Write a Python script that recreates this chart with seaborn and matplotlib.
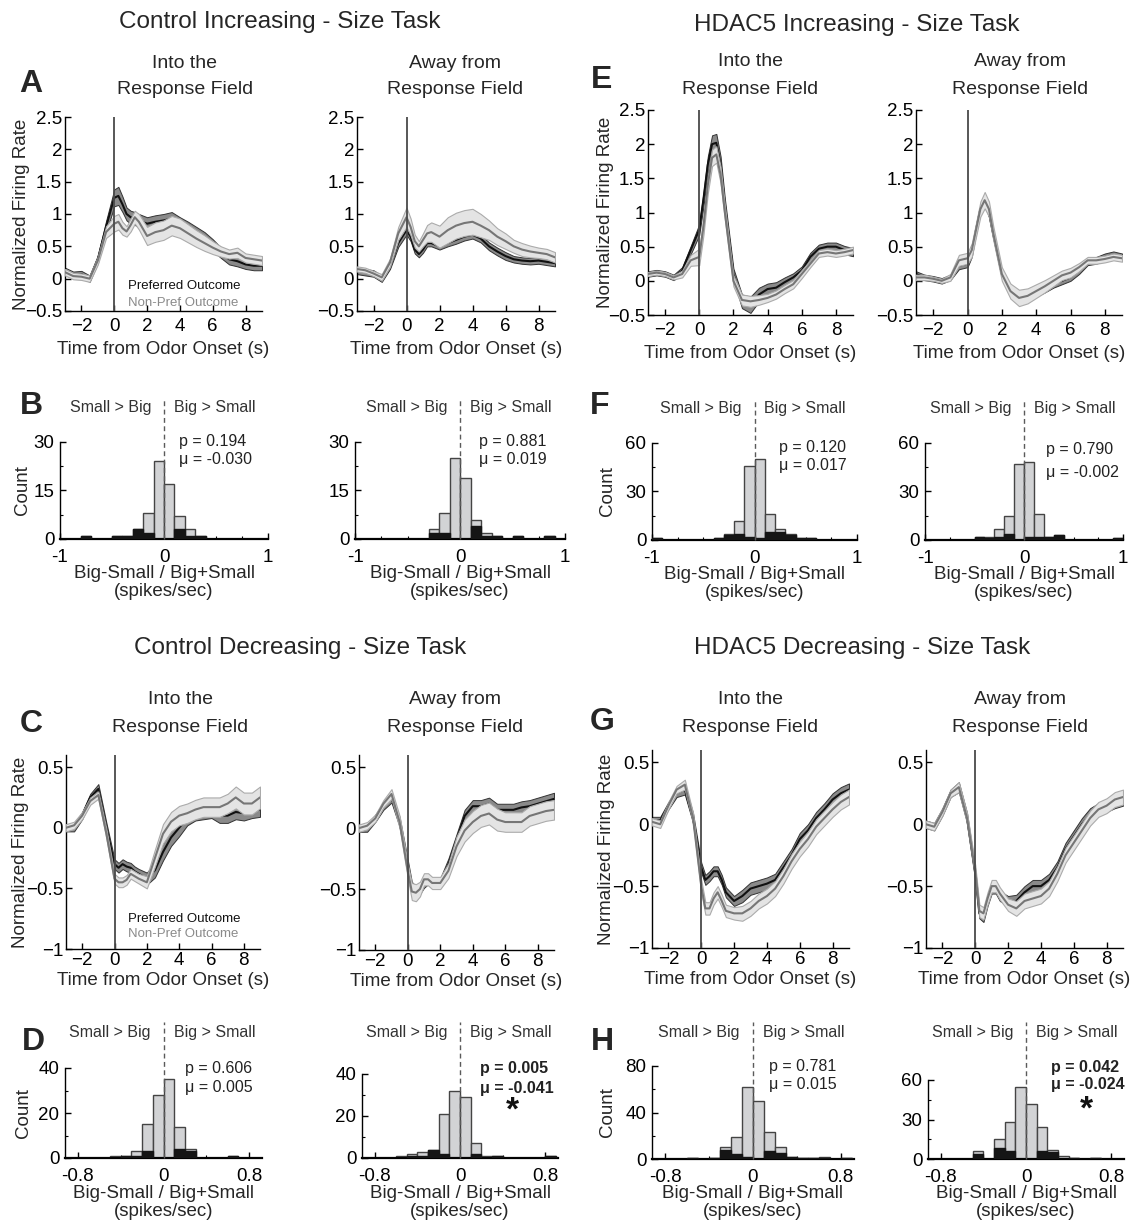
import numpy as np
import pandas as pd
import matplotlib
matplotlib.use("Agg")
import matplotlib.pyplot as plt
import matplotlib.transforms as mtransforms
import seaborn as sns

sns.set_theme(style="ticks")
plt.rcParams["font.family"] = ["Liberation Sans", "DejaVu Sans"]

# ---------------- data ----------------
time_s = [-3, -2.5, -2, -1.5, -1, -0.5, 0, 0.25, 0.5, 0.75, 1, 1.25, 1.5, 2,
          2.5, 3, 3.5, 4, 4.5, 5, 5.5, 6, 6.5, 7, 7.5, 8, 8.5, 9]

# Control Increasing - Into RF
A_in_pref = [0.12, 0.06, 0.07, 0.00, 0.30, 0.80, 1.25, 1.28, 1.15, 1.00, 0.95, 0.93, 0.90, 0.85, 0.88, 0.90, 0.93, 0.85, 0.78, 0.70, 0.62, 0.52, 0.40, 0.30, 0.27, 0.22, 0.20, 0.20]
A_in_pref_sem = [0.05, 0.05, 0.05, 0.05, 0.06, 0.09, 0.13, 0.14, 0.12, 0.10, 0.10, 0.10, 0.10, 0.10, 0.10, 0.10, 0.10, 0.10, 0.10, 0.10, 0.10, 0.09, 0.08, 0.08, 0.08, 0.07, 0.07, 0.07]
A_in_non = [0.10, 0.04, 0.03, 0.00, 0.28, 0.72, 0.85, 0.88, 0.78, 0.73, 0.83, 0.95, 0.88, 0.66, 0.72, 0.75, 0.82, 0.78, 0.70, 0.62, 0.55, 0.48, 0.42, 0.38, 0.40, 0.32, 0.30, 0.28]
A_in_non_sem = [0.05, 0.05, 0.05, 0.05, 0.06, 0.09, 0.12, 0.12, 0.10, 0.08, 0.10, 0.10, 0.12, 0.14, 0.15, 0.15, 0.15, 0.15, 0.14, 0.13, 0.12, 0.10, 0.08, 0.07, 0.08, 0.07, 0.07, 0.07]
# Control Increasing - Away
A_away_pref = [0.12, 0.10, 0.08, 0.00, 0.20, 0.55, 0.75, 0.65, 0.45, 0.38, 0.45, 0.55, 0.55, 0.50, 0.55, 0.60, 0.65, 0.68, 0.62, 0.50, 0.42, 0.35, 0.30, 0.28, 0.27, 0.28, 0.26, 0.24]
A_away_pref_sem = [0.05, 0.05, 0.05, 0.05, 0.05, 0.06, 0.07, 0.07, 0.06, 0.05, 0.05, 0.05, 0.05, 0.05, 0.05, 0.06, 0.06, 0.06, 0.06, 0.06, 0.06, 0.06, 0.05, 0.05, 0.05, 0.05, 0.05, 0.05]
A_away_non = [0.15, 0.13, 0.08, 0.02, 0.25, 0.70, 0.95, 0.80, 0.58, 0.50, 0.60, 0.70, 0.72, 0.65, 0.75, 0.82, 0.86, 0.88, 0.82, 0.75, 0.65, 0.58, 0.50, 0.45, 0.42, 0.40, 0.38, 0.33]
A_away_non_sem = [0.04, 0.04, 0.04, 0.05, 0.06, 0.10, 0.15, 0.13, 0.10, 0.08, 0.10, 0.13, 0.15, 0.17, 0.20, 0.20, 0.20, 0.20, 0.18, 0.15, 0.13, 0.12, 0.10, 0.10, 0.09, 0.08, 0.08, 0.08]
# HDAC5 Increasing - Into RF
E_in_pref = [0.10, 0.12, 0.10, 0.05, 0.15, 0.45, 0.75, 1.20, 1.70, 2.00, 2.02, 1.70, 1.10, 0.10, -0.30, -0.35, -0.20, -0.12, -0.10, -0.02, 0.05, 0.15, 0.35, 0.47, 0.50, 0.50, 0.45, 0.42]
E_in_pref_sem = [0.04, 0.04, 0.04, 0.04, 0.05, 0.06, 0.08, 0.10, 0.12, 0.13, 0.13, 0.12, 0.10, 0.08, 0.10, 0.12, 0.10, 0.08, 0.08, 0.07, 0.06, 0.06, 0.06, 0.06, 0.06, 0.06, 0.06, 0.06]
E_in_non = [0.10, 0.12, 0.10, 0.05, 0.10, 0.30, 0.35, 0.80, 1.40, 1.80, 1.85, 1.55, 1.00, 0.00, -0.28, -0.30, -0.28, -0.25, -0.20, -0.12, -0.05, 0.10, 0.25, 0.40, 0.42, 0.40, 0.42, 0.45]
E_in_non_sem = [0.03, 0.03, 0.03, 0.03, 0.05, 0.08, 0.12, 0.12, 0.12, 0.12, 0.12, 0.12, 0.10, 0.08, 0.08, 0.08, 0.07, 0.06, 0.06, 0.06, 0.06, 0.06, 0.05, 0.05, 0.05, 0.05, 0.05, 0.05]
# HDAC5 Increasing - Away
E_away_pref = [0.10, 0.05, 0.03, 0.00, 0.05, 0.22, 0.25, 0.40, 0.75, 1.05, 1.15, 1.00, 0.68, 0.10, -0.15, -0.22, -0.20, -0.18, -0.12, -0.05, 0.00, 0.05, 0.15, 0.28, 0.30, 0.35, 0.38, 0.35]
E_away_pref_sem = [0.04, 0.04, 0.04, 0.04, 0.04, 0.05, 0.05, 0.05, 0.06, 0.06, 0.06, 0.06, 0.05, 0.05, 0.05, 0.05, 0.05, 0.05, 0.05, 0.05, 0.05, 0.05, 0.05, 0.05, 0.05, 0.05, 0.05, 0.05]
E_away_non = [0.05, 0.05, 0.03, 0.00, 0.05, 0.30, 0.33, 0.45, 0.75, 1.05, 1.18, 1.05, 0.70, 0.10, -0.15, -0.25, -0.22, -0.15, -0.08, 0.00, 0.08, 0.12, 0.20, 0.30, 0.30, 0.32, 0.35, 0.33]
E_away_non_sem = [0.04, 0.04, 0.03, 0.03, 0.05, 0.08, 0.08, 0.10, 0.10, 0.11, 0.12, 0.11, 0.10, 0.10, 0.11, 0.12, 0.11, 0.10, 0.09, 0.08, 0.07, 0.07, 0.06, 0.05, 0.05, 0.05, 0.05, 0.05]
# Control Decreasing - Into RF
C_in_pref = [0.00, 0.00, 0.10, 0.25, 0.32, 0.00, -0.30, -0.33, -0.30, -0.32, -0.33, -0.36, -0.38, -0.42, -0.35, -0.20, -0.08, 0.00, 0.08, 0.12, 0.13, 0.14, 0.10, 0.10, 0.13, 0.12, 0.14, 0.15]
C_in_pref_sem = [0.03, 0.03, 0.03, 0.03, 0.04, 0.04, 0.04, 0.04, 0.04, 0.04, 0.04, 0.04, 0.04, 0.05, 0.06, 0.07, 0.07, 0.07, 0.06, 0.06, 0.06, 0.06, 0.06, 0.06, 0.06, 0.06, 0.06, 0.06]
C_in_non = [0.00, 0.02, 0.10, 0.22, 0.27, -0.05, -0.42, -0.45, -0.45, -0.43, -0.38, -0.40, -0.42, -0.45, -0.25, -0.05, 0.05, 0.10, 0.12, 0.15, 0.17, 0.17, 0.17, 0.20, 0.25, 0.20, 0.20, 0.25]
C_in_non_sem = [0.03, 0.03, 0.03, 0.03, 0.03, 0.04, 0.04, 0.04, 0.04, 0.04, 0.04, 0.04, 0.04, 0.05, 0.07, 0.08, 0.08, 0.08, 0.08, 0.08, 0.08, 0.08, 0.08, 0.08, 0.09, 0.09, 0.09, 0.09]
# Control Decreasing - Away
C_away_pref = [0.00, 0.00, 0.08, 0.18, 0.25, 0.05, -0.30, -0.48, -0.52, -0.50, -0.45, -0.42, -0.45, -0.45, -0.30, -0.10, 0.10, 0.18, 0.18, 0.20, 0.15, 0.15, 0.15, 0.17, 0.18, 0.20, 0.22, 0.24]
C_away_pref_sem = [0.03, 0.03, 0.03, 0.03, 0.04, 0.04, 0.04, 0.04, 0.04, 0.04, 0.04, 0.04, 0.04, 0.04, 0.05, 0.05, 0.05, 0.05, 0.05, 0.05, 0.05, 0.05, 0.05, 0.05, 0.05, 0.05, 0.05, 0.05]
C_away_non = [0.00, 0.02, 0.08, 0.20, 0.28, 0.05, -0.35, -0.52, -0.53, -0.50, -0.42, -0.42, -0.45, -0.45, -0.35, -0.15, -0.02, 0.05, 0.10, 0.12, 0.07, 0.05, 0.05, 0.05, 0.10, 0.12, 0.14, 0.15]
C_away_non_sem = [0.03, 0.03, 0.03, 0.03, 0.04, 0.05, 0.06, 0.07, 0.07, 0.06, 0.05, 0.05, 0.05, 0.05, 0.06, 0.08, 0.09, 0.09, 0.09, 0.09, 0.09, 0.08, 0.08, 0.08, 0.08, 0.08, 0.08, 0.08]
# HDAC5 Decreasing - Into RF
G_in_pref = [0.03, 0.03, 0.15, 0.25, 0.28, 0.05, -0.35, -0.45, -0.42, -0.38, -0.38, -0.45, -0.55, -0.62, -0.58, -0.52, -0.50, -0.48, -0.45, -0.35, -0.25, -0.12, -0.05, 0.05, 0.12, 0.20, 0.25, 0.28]
G_in_pref_sem = [0.03, 0.03, 0.03, 0.03, 0.04, 0.04, 0.04, 0.04, 0.04, 0.04, 0.04, 0.04, 0.04, 0.04, 0.05, 0.05, 0.05, 0.05, 0.05, 0.05, 0.05, 0.05, 0.05, 0.05, 0.05, 0.05, 0.05, 0.05]
G_in_non = [0.02, 0.00, 0.15, 0.28, 0.32, 0.05, -0.50, -0.68, -0.68, -0.60, -0.55, -0.62, -0.70, -0.72, -0.72, -0.68, -0.62, -0.58, -0.52, -0.42, -0.30, -0.20, -0.12, -0.02, 0.05, 0.12, 0.18, 0.22]
G_in_non_sem = [0.03, 0.03, 0.03, 0.03, 0.04, 0.04, 0.05, 0.05, 0.05, 0.05, 0.05, 0.05, 0.05, 0.05, 0.06, 0.06, 0.06, 0.06, 0.06, 0.06, 0.06, 0.06, 0.06, 0.06, 0.06, 0.06, 0.06, 0.06]
# HDAC5 Decreasing - Away
G_away_pref = [0.00, -0.02, 0.10, 0.25, 0.30, 0.05, -0.40, -0.72, -0.75, -0.62, -0.52, -0.52, -0.58, -0.62, -0.62, -0.55, -0.50, -0.50, -0.45, -0.35, -0.20, -0.10, 0.00, 0.08, 0.12, 0.15, 0.18, 0.20]
G_away_pref_sem = [0.03, 0.03, 0.03, 0.03, 0.04, 0.04, 0.04, 0.04, 0.04, 0.04, 0.04, 0.04, 0.04, 0.04, 0.05, 0.05, 0.05, 0.05, 0.05, 0.05, 0.05, 0.05, 0.05, 0.05, 0.05, 0.05, 0.05, 0.05]
G_away_non = [0.00, -0.02, 0.10, 0.25, 0.30, 0.05, -0.38, -0.70, -0.72, -0.60, -0.50, -0.50, -0.56, -0.65, -0.68, -0.62, -0.60, -0.58, -0.52, -0.40, -0.25, -0.15, -0.05, 0.05, 0.12, 0.15, 0.20, 0.22]
G_away_non_sem = [0.03, 0.03, 0.03, 0.03, 0.04, 0.04, 0.05, 0.05, 0.05, 0.05, 0.05, 0.05, 0.05, 0.05, 0.06, 0.06, 0.06, 0.06, 0.06, 0.06, 0.06, 0.06, 0.06, 0.06, 0.06, 0.06, 0.06, 0.06]

# histogram bin counts, bins of 0.1 from -1 to 1 (all cells / significant cells)
B_in_all = [0, 0, 1, 0, 0, 1, 1, 3, 8, 24, 17, 7, 3, 1, 0, 0, 0, 0, 0, 0]
B_in_sig = [0, 0, 1, 0, 0, 1, 1, 3, 2, 0, 0, 3, 1, 1, 0, 0, 0, 0, 0, 0]
B_away_all = [0, 0, 0, 0, 0, 0, 0, 3, 8, 25, 19, 6, 2, 1, 0, 1, 0, 0, 1, 0]
B_away_sig = [0, 0, 0, 0, 0, 0, 0, 2, 2, 0, 0, 4, 1, 1, 0, 1, 0, 0, 1, 0]
F_in_all = [1, 0, 0, 0, 0, 0, 1, 4, 12, 46, 50, 16, 7, 4, 1, 1, 0, 0, 0, 0]
F_in_sig = [1, 0, 0, 0, 0, 0, 1, 3, 4, 2, 1, 5, 5, 3, 1, 1, 0, 0, 0, 0]
F_away_all = [0, 0, 0, 0, 0, 2, 2, 7, 15, 47, 48, 16, 2, 3, 0, 0, 0, 0, 0, 1]
F_away_sig = [0, 0, 0, 0, 0, 2, 1, 2, 4, 0, 2, 2, 2, 3, 0, 0, 0, 0, 0, 1]
D_in_all = [0, 0, 0, 0, 0, 1, 1, 3, 15, 28, 35, 14, 4, 0, 0, 0, 1, 0, 0, 0]
D_in_sig = [0, 0, 0, 0, 0, 0, 1, 1, 3, 0, 0, 4, 3, 0, 0, 0, 1, 0, 0, 0]
D_away_all = [0, 0, 0, 0, 1, 2, 3, 4, 21, 32, 29, 7, 1, 1, 0, 0, 0, 0, 1, 0]
D_away_sig = [0, 0, 0, 0, 0, 1, 1, 4, 2, 0, 0, 2, 0, 1, 0, 0, 0, 0, 1, 0]
H_in_all = [0, 0, 0, 0, 1, 0, 1, 10, 19, 62, 50, 23, 10, 2, 1, 1, 2, 0, 1, 0]
H_in_sig = [0, 0, 0, 0, 1, 0, 1, 8, 4, 2, 0, 7, 5, 2, 1, 1, 1, 0, 1, 0]
H_away_all = [0, 0, 0, 0, 0, 6, 0, 15, 28, 55, 42, 24, 7, 2, 1, 0, 1, 0, 0, 0]
H_away_sig = [0, 0, 0, 0, 0, 4, 0, 8, 6, 0, 0, 6, 5, 0, 1, 0, 1, 0, 0, 0]

stats_text = {
    "B_in": ("p = 0.194", "μ = -0.030"),
    "B_away": ("p = 0.881", "μ = 0.019"),
    "F_in": ("p = 0.120", "μ = 0.017"),
    "F_away": ("p = 0.790", "μ = -0.002"),
    "D_in": ("p = 0.606", "μ = 0.005"),
    "D_away": ("p = 0.005", "μ = -0.041"),
    "H_in": ("p = 0.781", "μ = 0.015"),
    "H_away": ("p = 0.042", "μ = -0.024"),
}

# ---------------- style ----------------
W, H = 1130, 1225
fig = plt.figure(figsize=(W / 100, H / 100), dpi=100)

PREF_LINE = "#111111"
PREF_BAND = "#8a8a8a"
PREF_EDGE = "#333333"
NON_LINE = "#767676"
NON_BAND = "#e4e4e4"
NON_EDGE = "#ababab"
BAR_LIGHT = "#d2d3d5"
BAR_EDGE = "#444444"
BAR_DARK = "#151515"

bin_edges = [round(-1 + 0.1 * i, 2) for i in range(21)]
bin_centers = [round(-0.95 + 0.1 * i, 3) for i in range(20)]


def px_box(l, t, r, b):
    return [l / W, 1 - b / H, (r - l) / W, (b - t) / H]


def style_axis(ax, labelsize=13, xpad=2, ypad=2):
    sns.despine(ax=ax)
    for s in ("left", "bottom"):
        ax.spines[s].set_color("black")
        ax.spines[s].set_linewidth(1.0)
    ax.tick_params(axis="both", which="major", direction="in", length=4,
                   width=1, labelsize=labelsize, colors="black")
    ax.tick_params(axis="x", which="major", pad=xpad)
    ax.tick_params(axis="y", which="major", pad=ypad)
    ax.tick_params(axis="both", which="minor", direction="in", length=2.5,
                   width=0.8, colors="black")


def draw_trace(box, pref, pref_sem, non, non_sem, row, ylab_x=None, legend_y=None):
    ax = fig.add_axes(px_box(*box))
    t = np.asarray(time_s, float)
    p = np.asarray(pref, float)
    ps = np.asarray(pref_sem, float)
    n = np.asarray(non, float)
    ns = np.asarray(non_sem, float)
    ax.fill_between(t, p - ps, p + ps, facecolor=PREF_BAND, edgecolor=PREF_EDGE,
                    linewidth=0.7, zorder=1)
    sns.lineplot(x=t, y=p, ax=ax, color=PREF_LINE, linewidth=1.5, zorder=2)
    ax.fill_between(t, n - ns, n + ns, facecolor=NON_BAND, edgecolor=NON_EDGE,
                    linewidth=0.8, zorder=3)
    sns.lineplot(x=t, y=n, ax=ax, color=NON_LINE, linewidth=1.5, zorder=4)
    ax.axvline(0, color="#4a4a4a", linewidth=1.3, zorder=5)
    ax.set_xlim(-3, 9)
    ax.set_xticks([-2, 0, 2, 4, 6, 8])
    ax.set_xticklabels(["\u22122", "0", "2", "4", "6", "8"])
    if row == 1:
        ax.set_ylim(-0.5, 2.5)
        ax.set_yticks([-0.5, 0, 0.5, 1, 1.5, 2, 2.5])
        ax.set_yticklabels(["\u22120.5", "0", "0.5", "1", "1.5", "2", "2.5"])
        xpad, lab_off = 5, 30
    else:
        ax.set_ylim(-1, 0.6)
        ax.set_yticks([-1, -0.5, 0, 0.5])
        ax.set_yticklabels(["\u22121", "\u22120.5", "0", "0.5"])
        xpad, lab_off = 2, 23
    style_axis(ax, 13.5, xpad, 2)
    hpx = box[3] - box[1]
    ax.set_xlabel("Time from Odor Onset (s)", fontsize=13.5)
    ax.xaxis.set_label_coords(0.5, -lab_off / hpx)
    if ylab_x is not None:
        ax.set_ylabel("Normalized Firing Rate", fontsize=13.5)
        ax.yaxis.set_label_coords(ylab_x, 0.5)
    else:
        ax.set_ylabel("")
    if legend_y is not None:
        ax.text(0.85, legend_y[0], "Preferred Outcome", fontsize=9.5, color="#111111",
                ha="left", va="center", zorder=6)
        ax.text(0.85, legend_y[1], "Non-Pref Outcome", fontsize=9.5, color="#8a8a8a",
                ha="left", va="center", zorder=6)
    return ax


def draw_hist(box, counts_all, counts_sig, key, wide, ymax, yticks, stat_x, p_y, mu_y,
              count_x=None, bold=False, star=None, text_px=34, dash_px=44, xlab_px=26):
    ax = fig.add_axes(px_box(*box))
    hpx = box[3] - box[1]
    df = pd.DataFrame({"center": bin_centers, "all": counts_all, "sig": counts_sig})
    sns.histplot(data=df, x="center", weights="all", bins=bin_edges, ax=ax,
                 color=BAR_LIGHT, edgecolor=BAR_EDGE, linewidth=1.0, alpha=1, zorder=2)
    sns.histplot(data=df, x="center", weights="sig", bins=bin_edges, ax=ax,
                 color=BAR_DARK, edgecolor=BAR_DARK, linewidth=1.0, alpha=1, zorder=3)
    if wide:
        ax.set_xlim(-1, 1)
        ax.set_xticks([-1, 0, 1])
        ax.set_xticklabels(["-1", "0", "1"])
        ax.set_xticks([-0.75, -0.5, -0.25, 0.25, 0.5, 0.75], minor=True)
    else:
        ax.set_xlim(-0.92, 0.92)
        ax.set_xticks([-0.8, 0, 0.8])
        ax.set_xticklabels(["-0.8", "0", "0.8"])
        ax.set_xticks([-0.4, 0.4], minor=True)
    ax.set_ylim(0, ymax)
    ax.set_yticks(yticks)
    ax.set_yticklabels([str(v) for v in yticks])
    ax.set_yticks([(yticks[0] + yticks[1]) / 2, (yticks[1] + yticks[2]) / 2], minor=True)
    style_axis(ax, 13.5, 7, 4)
    ax.spines["bottom"].set_linewidth(1.6)
    text_y = 1 + text_px / hpx
    dash_top = 1 + dash_px / hpx
    ax.axvline(0, ymin=0, ymax=dash_top, color="#5a5a5a", linewidth=1.0,
               linestyle=(0, (3.5, 2.5)), clip_on=False, zorder=5)
    trans = mtransforms.blended_transform_factory(ax.transData, ax.transAxes)
    ax.annotate("Small > Big", xy=(0, text_y), xycoords=trans, xytext=(-13, 0),
                textcoords="offset pixels", ha="right", va="center", fontsize=11.5,
                color="#333333", annotation_clip=False)
    ax.annotate("Big > Small", xy=(0, text_y), xycoords=trans, xytext=(10, 0),
                textcoords="offset pixels", ha="left", va="center", fontsize=11.5,
                color="#333333", annotation_clip=False)
    p_txt, mu_txt = stats_text[key]
    fw = "bold" if bold else "normal"
    ax.text(stat_x, p_y, p_txt, transform=ax.transAxes, fontsize=11.5, fontweight=fw,
            ha="left", va="center", color="#222222")
    ax.text(stat_x, mu_y, mu_txt, transform=ax.transAxes, fontsize=11.5, fontweight=fw,
            ha="left", va="center", color="#222222")
    if star is not None:
        ax.text(star[0], star[1], "*", transform=ax.transAxes, fontsize=24,
                fontweight="bold", ha="center", va="center", color="#111111")
    ax.set_xlabel("Big-Small / Big+Small\n(spikes/sec)", fontsize=13.5, linespacing=1.1)
    ax.xaxis.set_label_coords(0.5, -xlab_px / hpx)
    if count_x is not None:
        ax.set_ylabel("Count", fontsize=13.5)
        ax.yaxis.set_label_coords(count_x, 0.5)
    else:
        ax.set_ylabel("")
    return ax


# ---------------- traces ----------------
draw_trace((65, 117, 262, 311), A_in_pref, A_in_pref_sem, A_in_non, A_in_non_sem, 1,
           ylab_x=-0.18, legend_y=(-0.11, -0.37))
draw_trace((357, 117, 555, 311), A_away_pref, A_away_pref_sem, A_away_non, A_away_non_sem, 1)
draw_trace((648, 110, 853, 315), E_in_pref, E_in_pref_sem, E_in_non, E_in_non_sem, 1,
           ylab_x=-0.165)
draw_trace((916, 110, 1122, 315), E_away_pref, E_away_pref_sem, E_away_non, E_away_non_sem, 1)
draw_trace((66, 755, 260, 949), C_in_pref, C_in_pref_sem, C_in_non, C_in_non_sem, 2,
           ylab_x=-0.19, legend_y=(-0.75, -0.88))
draw_trace((359, 755, 554, 950), C_away_pref, C_away_pref_sem, C_away_non, C_away_non_sem, 2)
draw_trace((652, 750, 849, 948), G_in_pref, G_in_pref_sem, G_in_non, G_in_non_sem, 2,
           ylab_x=-0.19)
draw_trace((926, 750, 1123, 948), G_away_pref, G_away_pref_sem, G_away_non, G_away_non_sem, 2)

# ---------------- histograms ----------------
draw_hist((60, 442, 268, 539), B_in_all, B_in_sig, "B_in", True, 30, [0, 15, 30],
          0.57, 1.01, 0.82, count_x=-0.14)
draw_hist((355, 442, 565, 539), B_away_all, B_away_sig, "B_away", True, 30, [0, 15, 30],
          0.59, 1.01, 0.82)
draw_hist((652, 443, 857, 540), F_in_all, F_in_sig, "F_in", True, 60, [0, 30, 60],
          0.62, 0.95, 0.77, count_x=-0.175)
draw_hist((925, 443, 1123, 540), F_away_all, F_away_sig, "F_away", True, 60, [0, 30, 60],
          0.61, 0.93, 0.70)
draw_hist((65, 1068, 262, 1158), D_in_all, D_in_sig, "D_in", False, 40, [0, 20, 40],
          0.61, 1.0, 0.78, count_x=-0.17, text_px=36, dash_px=46, xlab_px=27)
draw_hist((362, 1074, 558, 1158), D_away_all, D_away_sig, "D_away", False, 40, [0, 20, 40],
          0.60, 1.07, 0.83, bold=True, star=(0.77, 0.56), text_px=42, dash_px=52, xlab_px=27)
draw_hist((652, 1066, 854, 1159), H_in_all, H_in_sig, "H_in", False, 80, [0, 40, 80],
          0.58, 0.99, 0.80, count_x=-0.18, text_px=34, dash_px=44, xlab_px=26)
draw_hist((928, 1080, 1124, 1159), H_away_all, H_away_sig, "H_away", False, 60, [0, 30, 60],
          0.63, 1.16, 0.94, bold=True, star=(0.81, 0.62), text_px=48, dash_px=58, xlab_px=26)

# ---------------- titles and labels ----------------
def ftext(x, y, s, **kw):
    fig.text(x / W, 1 - y / H, s, ha="center", va="center", **kw)

ftext(280, 22, "Control Increasing - Size Task", fontsize=17.5)
ftext(857, 25, "HDAC5 Increasing - Size Task", fontsize=17.5)
ftext(300, 648, "Control Decreasing - Size Task", fontsize=17.5)
ftext(862, 648, "HDAC5 Decreasing - Size Task", fontsize=17.5)

for (x, y1, y2, top) in [(185, 63, 90, "Into the"), (455, 63, 90, "Away from"),
                         (750, 62, 89, "Into the"), (1020, 62, 89, "Away from"),
                         (180, 700, 728, "Into the"), (455, 700, 728, "Away from"),
                         (750, 700, 728, "Into the"), (1020, 700, 728, "Away from")]:
    ftext(x, y1, top, fontsize=14)
    ftext(x, y2, "Response Field", fontsize=14)

for (x, y, s) in [(31, 84, "A"), (31, 406, "B"), (31, 724, "C"), (33, 1042, "D"),
                  (602, 80, "E"), (600, 406, "F"), (602, 722, "G"), (602, 1042, "H")]:
    ftext(x, y, s, fontsize=23, fontweight="bold")

fig.savefig("out.png", dpi=100)
